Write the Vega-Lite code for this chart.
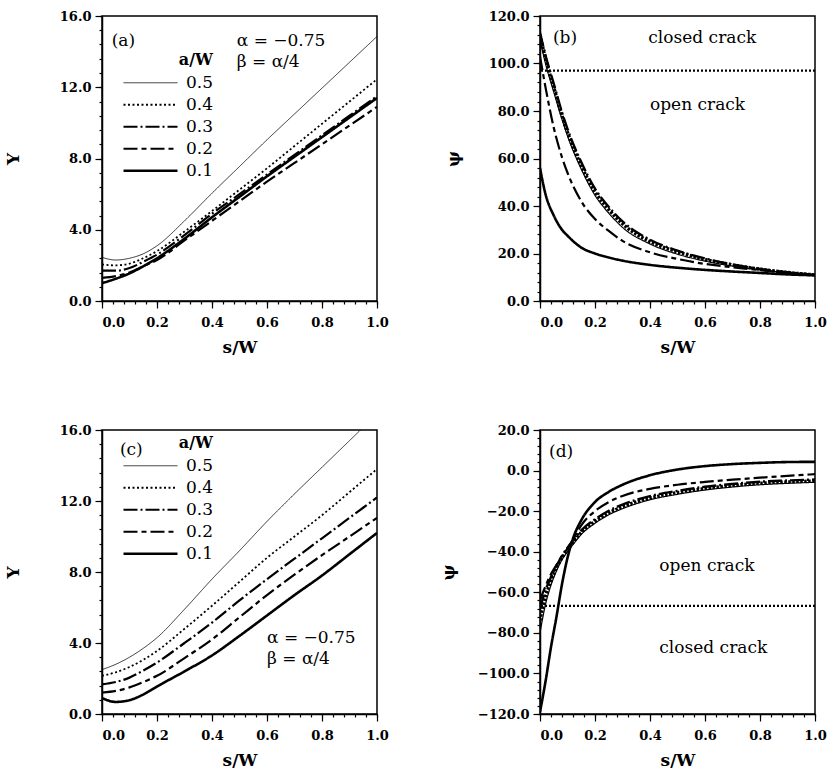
{
  "$schema": "https://vega.github.io/schema/vega-lite/v6.json",
  "padding": {"left": 3, "top": 9, "right": 5, "bottom": 5},
  "background": "white",
  "config": {
    "view": {"stroke": "black", "strokeWidth": 1.5},
    "axis": {"domainColor": "black", "domainWidth": 1.5, "tickColor": "black", "tickWidth": 1.2, "labelColor": "black", "labelFont": "DejaVu Serif", "labelFontWeight": "bold", "labelFontSize": 13, "titleFont": "DejaVu Serif", "titleFontWeight": "bold", "titleFontSize": 17, "titleColor": "black", "grid": false, "labelOverlap": false, "labelFlush": false},
    "legend": {"orient": "none", "symbolType": "stroke", "symbolSize": 2916, "symbolStrokeColor": "black", "titleFont": "DejaVu Serif", "titleFontSize": 16, "titleFontWeight": "bold", "titleColor": "black", "labelFont": "DejaVu Serif", "labelFontSize": 17, "labelColor": "black", "titleAnchor": "end", "rowPadding": 0, "clipHeight": 21.5, "labelOffset": 7, "titlePadding": 4, "padding": 0},
    "text": {"font": "DejaVu Serif", "fontSize": 17, "color": "black", "align": "left", "baseline": "middle"}
  },
  "datasets": {
    "a": [
      {"s": 0, "aw": "0.5", "v": 2.45}, {"s": 0.05, "aw": "0.5", "v": 2.3}, {"s": 0.1, "aw": "0.5", "v": 2.4}, {"s": 0.15, "aw": "0.5", "v": 2.65}, {"s": 0.2, "aw": "0.5", "v": 3.1}, {"s": 0.3, "aw": "0.5", "v": 4.5}, {"s": 0.4, "aw": "0.5", "v": 6.05}, {"s": 0.5, "aw": "0.5", "v": 7.55}, {"s": 0.6, "aw": "0.5", "v": 9.05}, {"s": 0.7, "aw": "0.5", "v": 10.5}, {"s": 0.8, "aw": "0.5", "v": 11.95}, {"s": 0.9, "aw": "0.5", "v": 13.4}, {"s": 1.0, "aw": "0.5", "v": 14.85},
      {"s": 0, "aw": "0.4", "v": 2.05}, {"s": 0.05, "aw": "0.4", "v": 2.0}, {"s": 0.1, "aw": "0.4", "v": 2.1}, {"s": 0.15, "aw": "0.4", "v": 2.4}, {"s": 0.2, "aw": "0.4", "v": 2.8}, {"s": 0.3, "aw": "0.4", "v": 3.9}, {"s": 0.4, "aw": "0.4", "v": 5.05}, {"s": 0.5, "aw": "0.4", "v": 6.25}, {"s": 0.6, "aw": "0.4", "v": 7.45}, {"s": 0.7, "aw": "0.4", "v": 8.7}, {"s": 0.8, "aw": "0.4", "v": 9.95}, {"s": 0.9, "aw": "0.4", "v": 11.2}, {"s": 1.0, "aw": "0.4", "v": 12.45},
      {"s": 0, "aw": "0.3", "v": 1.7}, {"s": 0.05, "aw": "0.3", "v": 1.7}, {"s": 0.1, "aw": "0.3", "v": 1.85}, {"s": 0.15, "aw": "0.3", "v": 2.2}, {"s": 0.2, "aw": "0.3", "v": 2.6}, {"s": 0.3, "aw": "0.3", "v": 3.7}, {"s": 0.4, "aw": "0.3", "v": 4.9}, {"s": 0.5, "aw": "0.3", "v": 6.0}, {"s": 0.6, "aw": "0.3", "v": 7.1}, {"s": 0.7, "aw": "0.3", "v": 8.2}, {"s": 0.8, "aw": "0.3", "v": 9.3}, {"s": 0.9, "aw": "0.3", "v": 10.4}, {"s": 1.0, "aw": "0.3", "v": 11.5},
      {"s": 0, "aw": "0.2", "v": 1.3}, {"s": 0.05, "aw": "0.2", "v": 1.4}, {"s": 0.1, "aw": "0.2", "v": 1.6}, {"s": 0.15, "aw": "0.2", "v": 1.95}, {"s": 0.2, "aw": "0.2", "v": 2.3}, {"s": 0.3, "aw": "0.2", "v": 3.4}, {"s": 0.4, "aw": "0.2", "v": 4.5}, {"s": 0.5, "aw": "0.2", "v": 5.6}, {"s": 0.6, "aw": "0.2", "v": 6.7}, {"s": 0.7, "aw": "0.2", "v": 7.75}, {"s": 0.8, "aw": "0.2", "v": 8.8}, {"s": 0.9, "aw": "0.2", "v": 9.85}, {"s": 1.0, "aw": "0.2", "v": 10.9},
      {"s": 0, "aw": "0.1", "v": 1.0}, {"s": 0.05, "aw": "0.1", "v": 1.25}, {"s": 0.1, "aw": "0.1", "v": 1.55}, {"s": 0.15, "aw": "0.1", "v": 1.95}, {"s": 0.2, "aw": "0.1", "v": 2.4}, {"s": 0.3, "aw": "0.1", "v": 3.5}, {"s": 0.4, "aw": "0.1", "v": 4.7}, {"s": 0.5, "aw": "0.1", "v": 5.85}, {"s": 0.6, "aw": "0.1", "v": 7.0}, {"s": 0.7, "aw": "0.1", "v": 8.1}, {"s": 0.8, "aw": "0.1", "v": 9.2}, {"s": 0.9, "aw": "0.1", "v": 10.3}, {"s": 1.0, "aw": "0.1", "v": 11.4}
    ],
    "b": [
      {"s": 0, "aw": "0.5", "v": 110}, {"s": 0.02, "aw": "0.5", "v": 100}, {"s": 0.05, "aw": "0.5", "v": 88}, {"s": 0.08, "aw": "0.5", "v": 76.5}, {"s": 0.1, "aw": "0.5", "v": 69.5}, {"s": 0.15, "aw": "0.5", "v": 55.5}, {"s": 0.2, "aw": "0.5", "v": 44.5}, {"s": 0.25, "aw": "0.5", "v": 37}, {"s": 0.3, "aw": "0.5", "v": 31}, {"s": 0.4, "aw": "0.5", "v": 24}, {"s": 0.5, "aw": "0.5", "v": 19.7}, {"s": 0.6, "aw": "0.5", "v": 16.8}, {"s": 0.7, "aw": "0.5", "v": 14.7}, {"s": 0.8, "aw": "0.5", "v": 13.1}, {"s": 0.9, "aw": "0.5", "v": 11.9}, {"s": 1.0, "aw": "0.5", "v": 11},
      {"s": 0, "aw": "0.4", "v": 112}, {"s": 0.02, "aw": "0.4", "v": 102}, {"s": 0.05, "aw": "0.4", "v": 90}, {"s": 0.08, "aw": "0.4", "v": 78}, {"s": 0.1, "aw": "0.4", "v": 71}, {"s": 0.15, "aw": "0.4", "v": 57}, {"s": 0.2, "aw": "0.4", "v": 46}, {"s": 0.25, "aw": "0.4", "v": 38.5}, {"s": 0.3, "aw": "0.4", "v": 32.5}, {"s": 0.4, "aw": "0.4", "v": 25}, {"s": 0.5, "aw": "0.4", "v": 20.7}, {"s": 0.6, "aw": "0.4", "v": 17.5}, {"s": 0.7, "aw": "0.4", "v": 15.2}, {"s": 0.8, "aw": "0.4", "v": 13.4}, {"s": 0.9, "aw": "0.4", "v": 12}, {"s": 1.0, "aw": "0.4", "v": 11},
      {"s": 0, "aw": "0.3", "v": 113}, {"s": 0.02, "aw": "0.3", "v": 103.5}, {"s": 0.05, "aw": "0.3", "v": 91.5}, {"s": 0.08, "aw": "0.3", "v": 79.5}, {"s": 0.1, "aw": "0.3", "v": 72.5}, {"s": 0.15, "aw": "0.3", "v": 58.5}, {"s": 0.2, "aw": "0.3", "v": 47.3}, {"s": 0.25, "aw": "0.3", "v": 39.6}, {"s": 0.3, "aw": "0.3", "v": 33.5}, {"s": 0.4, "aw": "0.3", "v": 25.8}, {"s": 0.5, "aw": "0.3", "v": 21.2}, {"s": 0.6, "aw": "0.3", "v": 17.9}, {"s": 0.7, "aw": "0.3", "v": 15.4}, {"s": 0.8, "aw": "0.3", "v": 13.5}, {"s": 0.9, "aw": "0.3", "v": 12.1}, {"s": 1.0, "aw": "0.3", "v": 11},
      {"s": 0, "aw": "0.2", "v": 103}, {"s": 0.02, "aw": "0.2", "v": 90}, {"s": 0.05, "aw": "0.2", "v": 73}, {"s": 0.08, "aw": "0.2", "v": 60.5}, {"s": 0.1, "aw": "0.2", "v": 54}, {"s": 0.15, "aw": "0.2", "v": 42}, {"s": 0.2, "aw": "0.2", "v": 34.5}, {"s": 0.25, "aw": "0.2", "v": 29.5}, {"s": 0.3, "aw": "0.2", "v": 25.3}, {"s": 0.4, "aw": "0.2", "v": 20.5}, {"s": 0.5, "aw": "0.2", "v": 17.7}, {"s": 0.6, "aw": "0.2", "v": 15.6}, {"s": 0.7, "aw": "0.2", "v": 14.2}, {"s": 0.8, "aw": "0.2", "v": 13}, {"s": 0.9, "aw": "0.2", "v": 11.9}, {"s": 1.0, "aw": "0.2", "v": 11},
      {"s": 0, "aw": "0.1", "v": 56}, {"s": 0.02, "aw": "0.1", "v": 45}, {"s": 0.05, "aw": "0.1", "v": 36}, {"s": 0.08, "aw": "0.1", "v": 30}, {"s": 0.1, "aw": "0.1", "v": 27.5}, {"s": 0.15, "aw": "0.1", "v": 22.5}, {"s": 0.2, "aw": "0.1", "v": 20}, {"s": 0.25, "aw": "0.1", "v": 18.3}, {"s": 0.3, "aw": "0.1", "v": 17}, {"s": 0.4, "aw": "0.1", "v": 15.2}, {"s": 0.5, "aw": "0.1", "v": 14}, {"s": 0.6, "aw": "0.1", "v": 13.1}, {"s": 0.7, "aw": "0.1", "v": 12.4}, {"s": 0.8, "aw": "0.1", "v": 11.8}, {"s": 0.9, "aw": "0.1", "v": 11.2}, {"s": 1.0, "aw": "0.1", "v": 10.8}
    ],
    "c": [
      {"s": 0, "aw": "0.5", "v": 2.5}, {"s": 0.05, "aw": "0.5", "v": 2.8}, {"s": 0.1, "aw": "0.5", "v": 3.2}, {"s": 0.15, "aw": "0.5", "v": 3.7}, {"s": 0.2, "aw": "0.5", "v": 4.3}, {"s": 0.3, "aw": "0.5", "v": 5.9}, {"s": 0.4, "aw": "0.5", "v": 7.6}, {"s": 0.5, "aw": "0.5", "v": 9.2}, {"s": 0.6, "aw": "0.5", "v": 10.85}, {"s": 0.7, "aw": "0.5", "v": 12.4}, {"s": 0.8, "aw": "0.5", "v": 13.9}, {"s": 0.9, "aw": "0.5", "v": 15.4}, {"s": 1.0, "aw": "0.5", "v": 16.9},
      {"s": 0, "aw": "0.4", "v": 2.15}, {"s": 0.05, "aw": "0.4", "v": 2.35}, {"s": 0.1, "aw": "0.4", "v": 2.65}, {"s": 0.15, "aw": "0.4", "v": 3.05}, {"s": 0.2, "aw": "0.4", "v": 3.55}, {"s": 0.3, "aw": "0.4", "v": 4.8}, {"s": 0.4, "aw": "0.4", "v": 6.1}, {"s": 0.5, "aw": "0.4", "v": 7.45}, {"s": 0.6, "aw": "0.4", "v": 8.8}, {"s": 0.7, "aw": "0.4", "v": 10.0}, {"s": 0.8, "aw": "0.4", "v": 11.2}, {"s": 0.9, "aw": "0.4", "v": 12.5}, {"s": 1.0, "aw": "0.4", "v": 13.8},
      {"s": 0, "aw": "0.3", "v": 1.67}, {"s": 0.05, "aw": "0.3", "v": 1.8}, {"s": 0.1, "aw": "0.3", "v": 2.05}, {"s": 0.15, "aw": "0.3", "v": 2.45}, {"s": 0.2, "aw": "0.3", "v": 2.9}, {"s": 0.3, "aw": "0.3", "v": 4.0}, {"s": 0.4, "aw": "0.3", "v": 5.15}, {"s": 0.5, "aw": "0.3", "v": 6.4}, {"s": 0.6, "aw": "0.3", "v": 7.6}, {"s": 0.7, "aw": "0.3", "v": 8.75}, {"s": 0.8, "aw": "0.3", "v": 9.9}, {"s": 0.9, "aw": "0.3", "v": 11.05}, {"s": 1.0, "aw": "0.3", "v": 12.2},
      {"s": 0, "aw": "0.2", "v": 1.2}, {"s": 0.05, "aw": "0.2", "v": 1.3}, {"s": 0.1, "aw": "0.2", "v": 1.5}, {"s": 0.15, "aw": "0.2", "v": 1.8}, {"s": 0.2, "aw": "0.2", "v": 2.15}, {"s": 0.3, "aw": "0.2", "v": 3.15}, {"s": 0.4, "aw": "0.2", "v": 4.2}, {"s": 0.5, "aw": "0.2", "v": 5.45}, {"s": 0.6, "aw": "0.2", "v": 6.7}, {"s": 0.7, "aw": "0.2", "v": 7.85}, {"s": 0.8, "aw": "0.2", "v": 8.95}, {"s": 0.9, "aw": "0.2", "v": 10.0}, {"s": 1.0, "aw": "0.2", "v": 11.05},
      {"s": 0, "aw": "0.1", "v": 0.9}, {"s": 0.05, "aw": "0.1", "v": 0.68}, {"s": 0.1, "aw": "0.1", "v": 0.78}, {"s": 0.15, "aw": "0.1", "v": 1.1}, {"s": 0.2, "aw": "0.1", "v": 1.55}, {"s": 0.3, "aw": "0.1", "v": 2.4}, {"s": 0.4, "aw": "0.1", "v": 3.3}, {"s": 0.5, "aw": "0.1", "v": 4.4}, {"s": 0.6, "aw": "0.1", "v": 5.55}, {"s": 0.7, "aw": "0.1", "v": 6.7}, {"s": 0.8, "aw": "0.1", "v": 7.8}, {"s": 0.9, "aw": "0.1", "v": 9.0}, {"s": 1.0, "aw": "0.1", "v": 10.2}
    ],
    "d": [
      {"s": 0, "aw": "0.5", "v": -80}, {"s": 0.02, "aw": "0.5", "v": -66}, {"s": 0.04, "aw": "0.5", "v": -56.5}, {"s": 0.06, "aw": "0.5", "v": -49.5}, {"s": 0.08, "aw": "0.5", "v": -44}, {"s": 0.1, "aw": "0.5", "v": -40}, {"s": 0.12, "aw": "0.5", "v": -36.5}, {"s": 0.15, "aw": "0.5", "v": -31.5}, {"s": 0.2, "aw": "0.5", "v": -26}, {"s": 0.25, "aw": "0.5", "v": -21.8}, {"s": 0.3, "aw": "0.5", "v": -18.8}, {"s": 0.4, "aw": "0.5", "v": -14.4}, {"s": 0.5, "aw": "0.5", "v": -11.7}, {"s": 0.6, "aw": "0.5", "v": -9.6}, {"s": 0.7, "aw": "0.5", "v": -8.1}, {"s": 0.8, "aw": "0.5", "v": -7}, {"s": 0.9, "aw": "0.5", "v": -6.3}, {"s": 1.0, "aw": "0.5", "v": -5.8},
      {"s": 0, "aw": "0.4", "v": -74}, {"s": 0.02, "aw": "0.4", "v": -62}, {"s": 0.04, "aw": "0.4", "v": -54.5}, {"s": 0.06, "aw": "0.4", "v": -48}, {"s": 0.08, "aw": "0.4", "v": -43}, {"s": 0.1, "aw": "0.4", "v": -39}, {"s": 0.12, "aw": "0.4", "v": -35.5}, {"s": 0.15, "aw": "0.4", "v": -30.5}, {"s": 0.2, "aw": "0.4", "v": -25}, {"s": 0.25, "aw": "0.4", "v": -20.8}, {"s": 0.3, "aw": "0.4", "v": -17.8}, {"s": 0.4, "aw": "0.4", "v": -13.5}, {"s": 0.5, "aw": "0.4", "v": -10.8}, {"s": 0.6, "aw": "0.4", "v": -8.8}, {"s": 0.7, "aw": "0.4", "v": -7.3}, {"s": 0.8, "aw": "0.4", "v": -6.2}, {"s": 0.9, "aw": "0.4", "v": -5.6}, {"s": 1.0, "aw": "0.4", "v": -5.1},
      {"s": 0, "aw": "0.3", "v": -68}, {"s": 0.02, "aw": "0.3", "v": -59}, {"s": 0.04, "aw": "0.3", "v": -52.5}, {"s": 0.06, "aw": "0.3", "v": -47}, {"s": 0.08, "aw": "0.3", "v": -42}, {"s": 0.1, "aw": "0.3", "v": -38}, {"s": 0.12, "aw": "0.3", "v": -34.5}, {"s": 0.15, "aw": "0.3", "v": -29.5}, {"s": 0.2, "aw": "0.3", "v": -24}, {"s": 0.25, "aw": "0.3", "v": -19.8}, {"s": 0.3, "aw": "0.3", "v": -16.8}, {"s": 0.4, "aw": "0.3", "v": -12.6}, {"s": 0.5, "aw": "0.3", "v": -10}, {"s": 0.6, "aw": "0.3", "v": -8}, {"s": 0.7, "aw": "0.3", "v": -6.6}, {"s": 0.8, "aw": "0.3", "v": -5.5}, {"s": 0.9, "aw": "0.3", "v": -4.9}, {"s": 1.0, "aw": "0.3", "v": -4.4},
      {"s": 0, "aw": "0.2", "v": -64}, {"s": 0.02, "aw": "0.2", "v": -57}, {"s": 0.04, "aw": "0.2", "v": -51}, {"s": 0.06, "aw": "0.2", "v": -46.5}, {"s": 0.08, "aw": "0.2", "v": -42}, {"s": 0.1, "aw": "0.2", "v": -38.5}, {"s": 0.12, "aw": "0.2", "v": -34}, {"s": 0.15, "aw": "0.2", "v": -27}, {"s": 0.2, "aw": "0.2", "v": -20}, {"s": 0.25, "aw": "0.2", "v": -15.5}, {"s": 0.3, "aw": "0.2", "v": -12.5}, {"s": 0.4, "aw": "0.2", "v": -9}, {"s": 0.5, "aw": "0.2", "v": -7}, {"s": 0.6, "aw": "0.2", "v": -5.6}, {"s": 0.7, "aw": "0.2", "v": -4.5}, {"s": 0.8, "aw": "0.2", "v": -3.5}, {"s": 0.9, "aw": "0.2", "v": -2.6}, {"s": 1.0, "aw": "0.2", "v": -1.8},
      {"s": 0, "aw": "0.1", "v": -119}, {"s": 0.02, "aw": "0.1", "v": -104}, {"s": 0.04, "aw": "0.1", "v": -87}, {"s": 0.06, "aw": "0.1", "v": -72}, {"s": 0.08, "aw": "0.1", "v": -56}, {"s": 0.1, "aw": "0.1", "v": -43}, {"s": 0.12, "aw": "0.1", "v": -33.5}, {"s": 0.15, "aw": "0.1", "v": -24.5}, {"s": 0.2, "aw": "0.1", "v": -15.5}, {"s": 0.25, "aw": "0.1", "v": -10.5}, {"s": 0.3, "aw": "0.1", "v": -7}, {"s": 0.4, "aw": "0.1", "v": -2.3}, {"s": 0.5, "aw": "0.1", "v": 0.5}, {"s": 0.6, "aw": "0.1", "v": 2.2}, {"s": 0.7, "aw": "0.1", "v": 3.2}, {"s": 0.8, "aw": "0.1", "v": 3.8}, {"s": 0.9, "aw": "0.1", "v": 4.2}, {"s": 1.0, "aw": "0.1", "v": 4.3}
    ],
    "na": [
      {"s": 0.035, "v": 14.6, "t": "(a)"},
      {"s": 0.49, "v": 14.6, "t": "α  = −0.75"},
      {"s": 0.49, "v": 13.4, "t": "β  = α/4"}
    ],
    "nb": [
      {"s": 0.047, "v": 110.8, "t": "(b)"},
      {"s": 0.394, "v": 110.8, "t": "closed crack"},
      {"s": 0.4, "v": 82.7, "t": "open crack"}
    ],
    "nc": [
      {"s": 0.065, "v": 14.9, "t": "(c)"},
      {"s": 0.6, "v": 4.3, "t": "α  = −0.75"},
      {"s": 0.6, "v": 3.1, "t": "β  = α/4"}
    ],
    "nd": [
      {"s": 0.033, "v": 9.3, "t": "(d)"},
      {"s": 0.434, "v": -46.9, "t": "open crack"},
      {"s": 0.434, "v": -87.3, "t": "closed crack"}
    ],
    "lb": [{"v": 97}],
    "ld": [{"v": -66.7}]
  },
  "columns": 2,
  "spacing": {"row": 129, "column": 163},
  "bounds": "flush",
  "resolve": {"scale": {"strokeDash": "independent", "strokeWidth": "independent"}, "legend": {"strokeDash": "independent", "strokeWidth": "independent"}},
  "concat": [
    {
      "width": 275, "height": 285,
      "resolve": {"axis": {"x": "independent", "y": "independent"}},
      "layer": [
        {
          "data": {"name": "a"},
          "mark": {"type": "line", "stroke": "black", "interpolate": "monotone", "clip": true},
          "encoding": {
            "x": {"field": "s", "type": "quantitative", "title": "s/W", "scale": {"domain": [0, 1]},
              "axis": {"orient": "bottom", "values": [0, 0.2, 0.4, 0.6, 0.8, 1], "format": ".1f", "tickSize": 7, "labelOverlap": false,
                "labelAlign": {"condition": {"test": "datum.value === 0", "value": "left"}, "value": "center"},
                "labelPadding": 8, "titlePadding": 10}},
            "y": {"field": "v", "type": "quantitative", "title": "Y", "scale": {"domain": [0, 16]},
              "axis": {"orient": "left", "values": [0, 4, 8, 12, 16], "format": ".1f", "tickSize": 7, "labelOverlap": false, "labelPadding": 4, "titlePadding": 37}},
            "strokeDash": {"field": "aw", "type": "nominal", "title": "a/W", "scale": {"domain": ["0.5", "0.4", "0.3", "0.2", "0.1"], "range": [[1, 0], [2, 2.5], [14, 3, 2, 3], [14, 4, 5, 4], [1, 0]]},
              "legend": {"legendX": 20, "legendY": 36}},
            "strokeWidth": {"field": "aw", "type": "nominal", "title": "a/W", "scale": {"type": "ordinal", "domain": ["0.5", "0.4", "0.3", "0.2", "0.1"], "range": [0.8, 1.8, 2.2, 2.2, 2.6]},
              "legend": {"legendX": 20, "legendY": 36}}
          }
        },
        {
          "data": {"name": "na"},
          "mark": {"type": "text"},
          "encoding": {
            "x": {"field": "s", "type": "quantitative", "axis": {"orient": "bottom", "values": [0,0.04,0.08,0.12,0.16,0.2,0.24,0.28,0.32,0.36,0.4,0.44,0.48,0.52,0.56,0.6,0.64,0.68,0.72,0.76,0.8,0.84,0.88,0.92,0.96,1], "labels": false, "domain": false, "title": null, "tickSize": 3}},
            "y": {"field": "v", "type": "quantitative", "axis": {"orient": "left", "values": [0,0.8,1.6,2.4,3.2,4,4.8,5.6,6.4,7.2,8,8.8,9.6,10.4,11.2,12,12.8,13.6,14.4,15.2,16], "labels": false, "domain": false, "title": null, "tickSize": 3}},
            "text": {"field": "t"}}
        }
      ]
    },
    {
      "width": 275, "height": 285,
      "resolve": {"axis": {"x": "independent", "y": "independent"}},
      "layer": [
        {
          "data": {"name": "b"},
          "mark": {"type": "line", "stroke": "black", "interpolate": "monotone", "clip": true},
          "encoding": {
            "x": {"field": "s", "type": "quantitative", "title": "s/W", "scale": {"domain": [0, 1]},
              "axis": {"orient": "bottom", "values": [0, 0.2, 0.4, 0.6, 0.8, 1], "format": ".1f", "tickSize": 7, "labelOverlap": false,
                "labelAlign": {"condition": {"test": "datum.value === 0", "value": "left"}, "value": "center"},
                "labelPadding": 8, "titlePadding": 10}},
            "y": {"field": "v", "type": "quantitative", "title": "ψ", "scale": {"domain": [0, 120]},
              "axis": {"orient": "left", "values": [0, 20, 40, 60, 80, 100, 120], "format": ".1f", "tickSize": 7, "labelOverlap": false, "labelPadding": 4, "titlePadding": 26}},
            "strokeDash": {"field": "aw", "type": "nominal", "scale": {"domain": ["0.5", "0.4", "0.3", "0.2", "0.1"], "range": [[1, 0], [2.5, 1.5], [14, 3, 2, 3], [14, 4, 5, 4], [1, 0]]}, "legend": null},
            "strokeWidth": {"field": "aw", "type": "nominal", "scale": {"type": "ordinal", "domain": ["0.5", "0.4", "0.3", "0.2", "0.1"], "range": [1.2, 3.4, 2.4, 2.2, 2.6]}, "legend": null}
          }
        },
        {
          "data": {"name": "lb"},
          "mark": {"type": "rule", "stroke": "black", "strokeDash": [2, 2], "strokeWidth": 2.2},
          "encoding": {"y": {"field": "v", "type": "quantitative", "axis": null}}
        },
        {
          "data": {"name": "nb"},
          "mark": {"type": "text"},
          "encoding": {
            "x": {"field": "s", "type": "quantitative", "axis": {"orient": "bottom", "values": [0,0.04,0.08,0.12,0.16,0.2,0.24,0.28,0.32,0.36,0.4,0.44,0.48,0.52,0.56,0.6,0.64,0.68,0.72,0.76,0.8,0.84,0.88,0.92,0.96,1], "labels": false, "domain": false, "title": null, "tickSize": 3}},
            "y": {"field": "v", "type": "quantitative", "axis": {"orient": "left", "values": [0,4,8,12,16,20,24,28,32,36,40,44,48,52,56,60,64,68,72,76,80,84,88,92,96,100,104,108,112,116,120], "labels": false, "domain": false, "title": null, "tickSize": 3}},
            "text": {"field": "t"}}
        }
      ]
    },
    {
      "width": 275, "height": 284,
      "resolve": {"axis": {"x": "independent", "y": "independent"}},
      "layer": [
        {
          "data": {"name": "c"},
          "mark": {"type": "line", "stroke": "black", "interpolate": "monotone", "clip": true},
          "encoding": {
            "x": {"field": "s", "type": "quantitative", "title": "s/W", "scale": {"domain": [0, 1]},
              "axis": {"orient": "bottom", "values": [0, 0.2, 0.4, 0.6, 0.8, 1], "format": ".1f", "tickSize": 7, "labelOverlap": false,
                "labelAlign": {"condition": {"test": "datum.value === 0", "value": "left"}, "value": "center"},
                "labelPadding": 8, "titlePadding": 10}},
            "y": {"field": "v", "type": "quantitative", "title": "Y", "scale": {"domain": [0, 16]},
              "axis": {"orient": "left", "values": [0, 4, 8, 12, 16], "format": ".1f", "tickSize": 7, "labelOverlap": false, "labelPadding": 4, "titlePadding": 37}},
            "strokeDash": {"field": "aw", "type": "nominal", "title": "a/W", "scale": {"domain": ["0.5", "0.4", "0.3", "0.2", "0.1"], "range": [[1, 0], [2, 2.5], [14, 3, 2, 3], [14, 4, 5, 4], [1, 0]]},
              "legend": {"legendX": 20, "legendY": 5}},
            "strokeWidth": {"field": "aw", "type": "nominal", "title": "a/W", "scale": {"type": "ordinal", "domain": ["0.5", "0.4", "0.3", "0.2", "0.1"], "range": [0.8, 1.8, 2.2, 2.2, 2.6]},
              "legend": {"legendX": 20, "legendY": 5}}
          }
        },
        {
          "data": {"name": "nc"},
          "mark": {"type": "text"},
          "encoding": {
            "x": {"field": "s", "type": "quantitative", "axis": {"orient": "bottom", "values": [0,0.04,0.08,0.12,0.16,0.2,0.24,0.28,0.32,0.36,0.4,0.44,0.48,0.52,0.56,0.6,0.64,0.68,0.72,0.76,0.8,0.84,0.88,0.92,0.96,1], "labels": false, "domain": false, "title": null, "tickSize": 3}},
            "y": {"field": "v", "type": "quantitative", "axis": {"orient": "left", "values": [0,0.8,1.6,2.4,3.2,4,4.8,5.6,6.4,7.2,8,8.8,9.6,10.4,11.2,12,12.8,13.6,14.4,15.2,16], "labels": false, "domain": false, "title": null, "tickSize": 3}},
            "text": {"field": "t"}}
        }
      ]
    },
    {
      "width": 275, "height": 284,
      "resolve": {"axis": {"x": "independent", "y": "independent"}},
      "layer": [
        {
          "data": {"name": "d"},
          "mark": {"type": "line", "stroke": "black", "interpolate": "monotone", "clip": true},
          "encoding": {
            "x": {"field": "s", "type": "quantitative", "title": "s/W", "scale": {"domain": [0, 1]},
              "axis": {"orient": "bottom", "values": [0, 0.2, 0.4, 0.6, 0.8, 1], "format": ".1f", "tickSize": 7, "labelOverlap": false,
                "labelAlign": {"condition": {"test": "datum.value === 0", "value": "left"}, "value": "center"},
                "labelPadding": 8, "titlePadding": 10}},
            "y": {"field": "v", "type": "quantitative", "title": "ψ", "scale": {"domain": [-120, 20]},
              "axis": {"orient": "left", "values": [-120, -100, -80, -60, -40, -20, 0, 20], "format": ".1f", "tickSize": 7, "labelOverlap": false, "labelPadding": 4, "titlePadding": 20}},
            "strokeDash": {"field": "aw", "type": "nominal", "scale": {"domain": ["0.5", "0.4", "0.3", "0.2", "0.1"], "range": [[1, 0], [2.5, 1.5], [14, 3, 2, 3], [14, 4, 5, 4], [1, 0]]}, "legend": null},
            "strokeWidth": {"field": "aw", "type": "nominal", "scale": {"type": "ordinal", "domain": ["0.5", "0.4", "0.3", "0.2", "0.1"], "range": [1.2, 3.2, 2.4, 2.2, 2.6]}, "legend": null}
          }
        },
        {
          "data": {"name": "ld"},
          "mark": {"type": "rule", "stroke": "black", "strokeDash": [2, 2], "strokeWidth": 2.2},
          "encoding": {"y": {"field": "v", "type": "quantitative", "axis": null}}
        },
        {
          "data": {"name": "nd"},
          "mark": {"type": "text"},
          "encoding": {
            "x": {"field": "s", "type": "quantitative", "axis": {"orient": "bottom", "values": [0,0.04,0.08,0.12,0.16,0.2,0.24,0.28,0.32,0.36,0.4,0.44,0.48,0.52,0.56,0.6,0.64,0.68,0.72,0.76,0.8,0.84,0.88,0.92,0.96,1], "labels": false, "domain": false, "title": null, "tickSize": 3}},
            "y": {"field": "v", "type": "quantitative", "axis": {"orient": "left", "values": [-120,-116,-112,-108,-104,-100,-96,-92,-88,-84,-80,-76,-72,-68,-64,-60,-56,-52,-48,-44,-40,-36,-32,-28,-24,-20,-16,-12,-8,-4,0,4,8,12,16,20], "labels": false, "domain": false, "title": null, "tickSize": 3}},
            "text": {"field": "t"}}
        }
      ]
    }
  ]
}
